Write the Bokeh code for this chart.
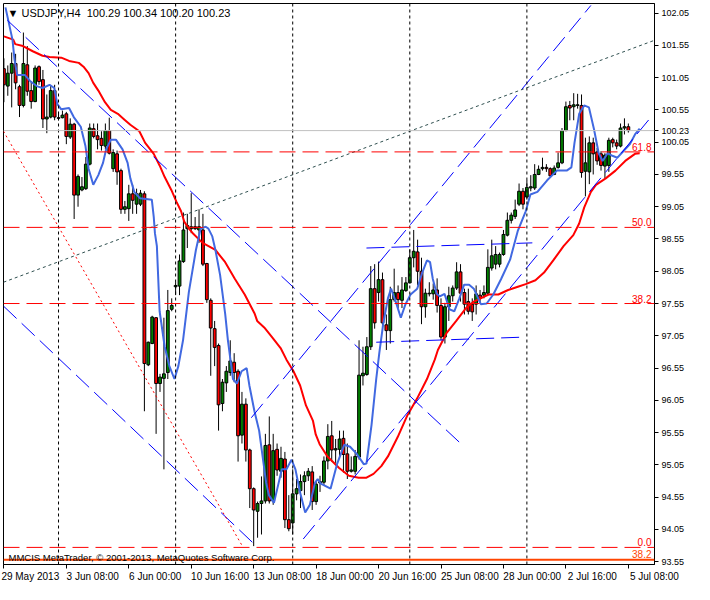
from bokeh.plotting import figure
from bokeh.models import (ColumnDataSource, FixedTicker, Span, Label, Range1d,
                          NumeralTickFormatter, LinearAxis, CustomJSTickFormatter)
from bokeh.embed import file_html
from bokeh.resources import INLINE

# ---------------- data (USDJPY H4) ----------------
open_ = [101.19, 100.92, 101.12, 101.27, 100.91, 100.62, 101.25, 100.85, 100.68, 101.22,
         101.02, 100.41, 100.44, 100.85, 100.43, 100.43, 100.49, 100.13, 100.33, 99.23,
         99.31, 99.33, 99.71, 100.26, 100.15, 100.11, 99.99, 100.23, 99.64, 99.87,
         99.61, 99.01, 99.02, 99.25, 99.09, 99.09, 99.25, 96.60, 96.93, 97.33,
         96.31, 96.39, 96.48, 97.46, 97.81, 97.82, 98.20, 98.71, 98.71, 98.74,
         98.69, 98.69, 98.17, 97.60, 97.16, 96.90, 96.00, 96.32, 96.48, 96.64,
         96.50, 95.51, 95.99, 95.28, 94.68, 94.33, 94.45, 94.49, 95.36, 94.49,
         95.29, 94.95, 95.14, 94.20, 94.15, 94.60, 94.65, 94.79, 94.88, 94.94,
         94.48, 94.77, 94.78, 95.11, 95.50, 95.28, 95.29, 95.46, 95.22, 94.95,
         94.95, 95.17, 96.43, 96.45, 96.88, 97.78, 97.72, 97.92, 97.22, 97.13,
         97.61, 97.72, 97.60, 97.75, 97.87, 98.26, 98.35, 98.05, 97.50, 97.70,
         97.70, 97.76, 97.52, 97.03, 97.50, 97.67, 97.79, 98.04, 97.72, 97.58,
         97.54, 97.54, 97.68, 97.68, 97.71, 98.10, 98.16, 98.16, 98.31, 98.61,
         98.84, 98.90, 99.09, 99.29, 99.20, 99.34, 99.34, 99.55, 99.64, 99.66,
         99.64, 99.55, 99.66, 99.73, 100.23, 100.62, 100.60, 100.62, 100.62, 99.60,
         99.59, 100.04, 99.90, 99.87, 99.68, 99.69, 100.09, 100.04, 99.99, 100.27,
         100.29]
high = [101.35, 101.24, 101.44, 101.42, 100.94, 101.75, 101.54, 100.99, 101.24, 101.24,
        101.17, 100.79, 100.92, 100.94, 100.52, 100.54, 100.52, 100.42, 100.35, 99.55,
        99.51, 99.82, 100.34, 100.34, 100.34, 100.22, 100.34, 100.43, 99.94, 99.92,
        99.64, 99.14, 99.39, 99.39, 99.33, 99.31, 99.29, 96.96, 97.36, 97.34,
        96.46, 97.33, 97.76, 97.63, 97.88, 98.31, 98.96, 98.94, 99.26, 98.89,
        99.01, 98.94, 98.18, 97.63, 97.28, 96.93, 96.38, 96.58, 96.98, 96.78,
        96.53, 96.18, 96.08, 95.30, 94.70, 94.48, 94.87, 95.53, 95.80, 95.53,
        95.38, 95.33, 95.25, 94.58, 94.98, 94.83, 94.90, 94.95, 95.00, 95.03,
        94.80, 94.88, 95.18, 95.68, 95.73, 95.45, 95.58, 95.58, 95.38, 95.18,
        95.28, 96.98, 96.88, 97.03, 98.13, 98.16, 98.20, 98.03, 97.38, 97.81,
        98.09, 97.83, 97.96, 97.96, 98.39, 98.69, 98.54, 98.26, 97.78, 97.88,
        97.86, 97.94, 97.63, 97.56, 97.81, 97.83, 98.19, 98.16, 97.78, 97.78,
        97.63, 97.83, 97.76, 97.83, 98.39, 98.54, 98.44, 98.34, 98.69, 98.96,
        98.96, 99.16, 99.41, 99.34, 99.46, 99.54, 99.71, 99.69, 99.81, 99.71,
        99.66, 99.69, 99.89, 100.27, 100.68, 100.69, 100.81, 100.80, 100.79, 100.12,
        100.14, 100.12, 99.96, 99.91, 99.88, 100.12, 100.12, 100.09, 100.34, 100.42,
        100.34]
low = [100.67, 100.77, 100.59, 100.87, 100.44, 100.59, 100.77, 100.57, 100.67, 100.94,
       100.27, 100.19, 100.42, 100.39, 100.39, 100.42, 100.02, 100.10, 98.86, 99.05,
       99.29, 99.31, 99.69, 100.11, 99.94, 99.92, 99.94, 99.86, 99.59, 99.39,
       98.94, 98.94, 98.83, 98.94, 98.94, 99.06, 95.88, 96.58, 96.92, 95.53,
       96.18, 94.98, 96.38, 97.43, 97.68, 97.68, 98.18, 98.41, 98.64, 98.69,
       98.49, 98.13, 97.56, 96.43, 96.58, 95.58, 95.88, 96.18, 96.43, 96.33,
       95.10, 95.38, 95.10, 94.38, 93.79, 93.92, 93.97, 94.45, 94.45, 94.43,
       94.88, 94.85, 94.07, 94.02, 93.97, 94.50, 94.38, 94.58, 94.80, 94.35,
       94.43, 94.63, 94.73, 94.98, 95.10, 95.08, 95.18, 94.93, 94.83, 94.93,
       94.90, 95.13, 96.28, 96.43, 96.83, 97.16, 97.58, 97.18, 96.83, 96.93,
       97.58, 97.48, 97.48, 97.73, 97.86, 98.11, 97.83, 97.23, 97.33, 97.66,
       97.61, 97.41, 96.98, 96.93, 97.28, 97.58, 97.76, 97.58, 97.38, 97.38,
       97.28, 97.38, 97.56, 97.63, 97.68, 98.06, 98.08, 98.11, 98.29, 98.59,
       98.79, 98.86, 99.06, 99.01, 99.16, 99.29, 99.31, 99.54, 99.61, 99.59,
       99.51, 99.54, 99.64, 99.71, 100.22, 100.39, 100.39, 100.57, 99.50, 99.21,
       99.40, 99.55, 99.70, 99.61, 99.49, 99.59, 99.97, 99.94, 99.97, 100.17,
       100.20]
close = [100.94, 101.12, 101.27, 100.97, 100.62, 101.27, 100.84, 100.68, 101.20, 100.99,
         100.41, 100.44, 100.85, 100.44, 100.42, 100.47, 100.14, 100.33, 99.23, 99.52,
         99.36, 99.71, 100.27, 100.14, 100.09, 100.00, 100.23, 99.88, 99.89, 99.59,
         99.01, 99.05, 99.25, 99.15, 99.25, 99.26, 96.62, 96.95, 97.34, 96.31,
         96.41, 96.46, 97.44, 97.52, 97.83, 98.21, 98.69, 98.76, 98.74, 98.71,
         98.74, 98.16, 97.61, 97.17, 96.87, 95.98, 96.33, 96.50, 96.66, 96.48,
         95.50, 95.99, 95.28, 94.68, 94.35, 94.45, 94.49, 95.35, 94.49, 95.27,
         94.97, 95.15, 94.20, 94.06, 94.60, 94.68, 94.79, 94.88, 94.95, 94.48,
         94.75, 94.79, 95.11, 95.49, 95.28, 95.30, 95.45, 95.21, 94.95, 94.97,
         95.18, 96.44, 96.47, 96.88, 97.78, 97.25, 97.92, 97.25, 97.13, 97.61,
         97.72, 97.61, 97.76, 97.87, 98.26, 98.36, 98.05, 97.50, 97.71, 97.71,
         97.76, 97.52, 97.03, 97.50, 97.67, 97.79, 98.04, 97.71, 97.54, 97.43,
         97.42, 97.70, 97.63, 97.72, 98.11, 98.29, 98.31, 98.31, 98.62, 98.84,
         98.92, 99.00, 99.29, 99.09, 99.35, 99.36, 99.55, 99.63, 99.66, 99.64,
         99.53, 99.65, 99.73, 100.23, 100.60, 100.58, 100.63, 100.63, 99.58, 99.73,
         100.04, 99.87, 99.76, 99.69, 99.85, 100.08, 100.04, 99.99, 100.27, 100.29,
         100.23]

# moving averages (bar position, price)
blue_idx = [0.4, 2.2, 2.7, 3.4, 5.4, 6.7, 8.4, 9.9, 11.7, 12.9,
            13.7, 14.7, 16.7, 17.9, 19.7, 20.9, 21.7, 22.9, 24.2, 25.4,
            26.2, 27.4, 28.7, 30.4, 31.7, 32.4, 33.4, 34.9, 37.9, 38.4,
            38.7, 39.2, 39.9, 41.2, 42.4, 43.7, 44.7, 45.9, 47.4, 49.2,
            50.4, 51.7, 52.4, 53.4, 54.2, 55.4, 56.7, 57.4, 58.7, 59.7,
            60.9, 62.2, 62.9, 64.2, 65.4, 66.2, 67.2, 67.9, 69.2, 70.4,
            71.2, 72.4, 73.7, 74.7, 75.9, 77.2, 78.4, 79.7, 80.4, 81.2,
            83.7, 85.4, 87.2, 88.7, 90.4, 92.2, 92.9, 94.2, 95.4, 96.2,
            97.2, 98.4, 99.2, 100.4, 101.7, 102.9, 104.2, 105.9, 107.2, 108.4,
            109.2, 109.9, 110.9, 111.7, 112.9, 114.2, 115.4, 116.7, 117.9, 119.2,
            120.4, 122.2, 123.7, 125.4, 127.4, 129.7, 131.7, 133.7, 134.9, 136.7,
            139.2, 141.7, 144.2, 145.4, 146.2, 147.4, 148.7, 149.9, 151.2, 152.4,
            153.4, 154.7, 155.9, 157.2, 158.7, 160.4, 161.7, 162.9]
blue_val = [102.14, 101.64, 101.34, 101.09, 101.09, 101.00, 100.92, 100.89, 100.94, 100.89,
            100.64, 100.56, 100.58, 100.44, 100.29, 99.99, 99.64, 99.39, 99.54, 99.73,
            99.94, 100.09, 100.09, 99.94, 99.73, 99.49, 99.28, 99.18, 99.16, 98.89,
            98.64, 98.44, 97.43, 96.88, 96.58, 96.38, 96.58, 96.98, 97.73, 98.38,
            98.71, 98.74, 98.71, 98.59, 98.38, 97.99, 97.39, 96.98, 96.38, 96.31,
            96.50, 96.55, 96.28, 95.88, 95.58, 95.22, 94.77, 94.58, 94.46, 94.77,
            94.98, 94.98, 95.13, 94.98, 94.62, 94.31, 94.43, 94.77, 94.83, 94.76,
            94.68, 95.07, 95.36, 95.33, 95.22, 95.06, 95.07, 95.67, 96.38, 96.79,
            97.24, 97.63, 97.78, 97.58, 97.33, 97.54, 97.69, 97.78, 98.03, 98.22,
            98.19, 97.93, 97.70, 97.66, 97.70, 97.46, 97.43, 97.63, 97.84, 97.84,
            97.78, 97.54, 97.55, 97.69, 97.93, 98.23, 98.68, 98.98, 99.24, 99.28,
            99.46, 99.61, 99.61, 99.66, 100.04, 100.49, 100.62, 100.59, 100.25, 99.88,
            99.76, 99.88, 99.84, 99.81, 99.91, 100.02, 100.17, 100.26]
red_idx = [0, 2.4, 2.9, 4.9, 7.4, 9.9, 11.7, 14.7, 16.7, 19.2,
           20.4, 21.7, 22.9, 24.2, 25.9, 27.4, 29.2, 30.9, 32.4, 34.7,
           36.2, 38.4, 39.9, 41.2, 42.9, 44.2, 45.4, 46.2, 47.4, 48.4,
           50.9, 54.2, 56.7, 59.2, 61.7, 64.2, 64.9, 66.7, 68.7, 70.9,
           72.4, 74.2, 75.9, 77.4, 79.2, 79.9, 80.9, 82.9, 85.9, 88.4,
           90.9, 92.9, 94.7, 96.7, 98.4, 100.9, 103.4, 105.9, 108.4, 110.4,
           111.2, 113.4, 115.9, 118.4, 120.4, 124.2, 126.7, 129.2, 131.7, 133.7,
           136.2, 138.4, 140.9, 143.4, 145.9, 147.4, 148.7, 150.4, 151.7, 154.2,
           156.7, 159.2, 161.7, 162.9]
red_val = [101.69, 101.64, 101.57, 101.54, 101.46, 101.39, 101.37, 101.36, 101.31, 101.28,
           101.22, 101.12, 100.97, 100.85, 100.67, 100.55, 100.49, 100.40, 100.32, 100.22,
           100.04, 99.87, 99.69, 99.51, 99.31, 99.13, 98.98, 98.82, 98.71, 98.64,
           98.49, 98.38, 98.19, 97.93, 97.69, 97.40, 97.28, 97.18, 97.03, 96.86,
           96.68, 96.50, 96.28, 95.97, 95.73, 95.52, 95.37, 95.18, 95.00, 94.88,
           94.85, 94.85, 94.91, 95.03, 95.18, 95.48, 95.82, 96.08, 96.38, 96.68,
           96.83, 97.09, 97.28, 97.48, 97.58, 97.69, 97.69, 97.76, 97.81, 97.85,
           97.91, 98.03, 98.23, 98.44, 98.61, 98.79, 99.04, 99.28, 99.39, 99.49,
           99.61, 99.76, 99.87, 99.88]

# drawn objects (bar position, price)
trend_x0 = [0.9, -0.1, 63.4, 76.7, 92.9, 95.4]
trend_y0 = [101.94, 97.51, 95.78, 93.90, 98.41, 96.95]
trend_x1 = [116.7, 64.7, 150.4, 165.4, 135.4, 133.7]
trend_y1 = [95.40, 93.79, 102.17, 100.41, 98.49, 97.03]
fibline_x = [-0.1, 61.2]
fibline_y = [100.22, 93.78]
slow_x = [-0.1, 166.7]
slow_y = [97.88, 101.63]
fib_levels = [99.90, 98.73, 97.55, 93.77]
fib_names = ["61.8", "50.0", "38.2", "0.0"]
fib2_level = 93.58
fib2_name = "38.2"

week_bars = [14, 44, 74, 104, 134]
xtick_bars = [0, 16, 32, 48, 64, 80, 96, 112, 128, 144, 160]
xtick_labels = ["29 May 2013", "3 Jun 08:00", "6 Jun 00:00", "10 Jun 16:00", "13 Jun 08:00",
                "18 Jun 00:00", "20 Jun 16:00", "25 Jun 08:00", "28 Jun 00:00", "2 Jul 16:00",
                "5 Jul 08:00"]
ytick_vals = [93.55, 94.05, 94.55, 95.05, 95.55, 96.05, 96.55, 97.05, 97.55, 98.05,
              98.55, 99.05, 99.55, 100.05, 100.55, 101.05, 101.55, 102.05]
symbol = "USDJPY,H4"
copyright_text = "MMCIS MetaTrader, \u00a9 2001-2013, MetaQuotes Software Corp."

# ---------------- figure ----------------
FONT = "Liberation Sans"
X0, X1 = -0.1, 166.7
Y0, Y1 = 93.505, 102.2
W, H = 694, 584
BL, BT, BR, BB = 3, 3, 40, 20
FRAME_W = W - BL - BR

n = len(close)
src = ColumnDataSource(dict(
    x=list(range(n)), high=high, low=low,
    top=[max(o, c) for o, c in zip(open_, close)],
    bot=[min(o, c) for o, c in zip(open_, close)],
    color=["#008000" if c >= o else "#FF0000" for o, c in zip(open_, close)],
))

p = figure(width=W, height=H, output_backend="svg", toolbar_location=None, tools="",
           x_range=Range1d(X0, X1), y_range=Range1d(Y0, Y1),
           y_axis_location="right", x_axis_location=None,
           min_border_left=BL, min_border_top=BT, min_border_right=BR, min_border_bottom=BB)
p.background_fill_color = "white"
p.border_fill_color = "white"
p.outline_line_color = "black"
p.outline_line_width = 1
p.xgrid.visible = False
p.ygrid.visible = False

# price axis (right) - scale values plus the current bid price
p.yaxis.ticker = FixedTicker(ticks=sorted(ytick_vals + [close[-1]]))
p.yaxis.formatter = NumeralTickFormatter(format="0.00")
p.yaxis.major_label_text_font = FONT
p.yaxis.major_label_text_font_size = "9px"
p.yaxis.major_label_text_color = "black"
p.yaxis.major_tick_in = 0
p.yaxis.major_tick_out = 4
p.yaxis.minor_tick_in = 0
p.yaxis.minor_tick_out = 0
p.yaxis.major_label_standoff = 3
p.yaxis.axis_line_color = "black"

# time axis: tick marks at the bars, labels start at the tick (MT4 style)
tick_axis = LinearAxis(ticker=FixedTicker(ticks=xtick_bars),
                       formatter=CustomJSTickFormatter(code="return ''"),
                       major_tick_in=0, major_tick_out=4, minor_tick_in=0, minor_tick_out=0,
                       major_label_standoff=0, axis_line_color="black")
p.add_layout(tick_axis, "below")
px_per_bar = FRAME_W / (X1 - X0)
label_pos = [min(b + 4.8 * len(t) / 2.0 / px_per_bar, X1 - 0.02)
             for b, t in zip(xtick_bars, xtick_labels)]
label_axis = LinearAxis(ticker=FixedTicker(ticks=label_pos),
                        formatter=CustomJSTickFormatter(
                            args=dict(pos=label_pos, labels=xtick_labels),
                            code="for (let j = 0; j < pos.length; j++) {"
                                 " if (Math.abs(pos[j] - tick) < 1e-6) return labels[j]; }"
                                 " return '';"),
                        major_tick_in=0, major_tick_out=0, minor_tick_in=0, minor_tick_out=0,
                        major_label_standoff=2, axis_line_color=None,
                        major_label_text_font=FONT, major_label_text_font_size="10px",
                        major_label_text_color="black")
p.add_layout(label_axis, "below")

# week separators
for b in week_bars:
    p.add_layout(Span(location=b, dimension="height", line_color="black",
                      line_dash="3 3", line_width=1))

# bid line
p.add_layout(Span(location=close[-1], dimension="width", line_color="#C0C0C0", line_width=1))

# candles
p.segment(x0="x", y0="low", x1="x", y1="high", source=src, line_color="black", line_width=1)
p.vbar(x="x", width=0.72, top="top", bottom="bot", fill_color="color",
       line_color="black", line_width=1, source=src)

# moving averages
p.line(red_idx, red_val, line_color="#FF0000", line_width=2)
p.line(blue_idx, blue_val, line_color="#4169E1", line_width=2)

# objects
p.segment(x0=trend_x0, y0=trend_y0, x1=trend_x1, y1=trend_y1,
          line_color="#0000FF", line_width=1, line_dash="18 7")
p.line(fibline_x, fibline_y, line_color="#FF0000", line_width=1, line_dash="2 3")
p.line(slow_x, slow_y, line_color="#2F4F4F", line_width=1, line_dash="3 3")

for lv, nm in zip(fib_levels, fib_names):
    p.add_layout(Span(location=lv, dimension="width", line_color="#FF0000",
                      line_width=1, line_dash="16 7"))
    p.add_layout(Label(x=X1, y=lv, x_offset=-3, y_offset=1, text=nm, text_align="right",
                       text_baseline="bottom", text_font=FONT, text_font_size="10px",
                       text_color="#FF0000"))
p.add_layout(Span(location=fib2_level, dimension="width", line_color="#FF4500", line_width=2))
p.add_layout(Label(x=X1, y=fib2_level, x_offset=-3, y_offset=2, text=fib2_name,
                   text_align="right", text_baseline="bottom", text_font=FONT,
                   text_font_size="10px", text_color="#FF4500"))

# texts
title = "\u25bc %s\u00a0 %.2f %.2f %.2f %.2f" % (symbol, open_[-1], high[-1], low[-1], close[-1])
p.add_layout(Label(x=X0, y=Y1, x_offset=4, y_offset=-3, text=title, text_align="left",
                   text_baseline="top", text_font=FONT, text_font_size="11px",
                   text_color="black"))
p.add_layout(Label(x=X0, y=Y0, x_offset=5, y_offset=2, text=copyright_text,
                   text_align="left", text_baseline="bottom", text_font=FONT,
                   text_font_size="9.5px", text_color="black"))

open("out.html", "w").write(file_html(p, INLINE))
